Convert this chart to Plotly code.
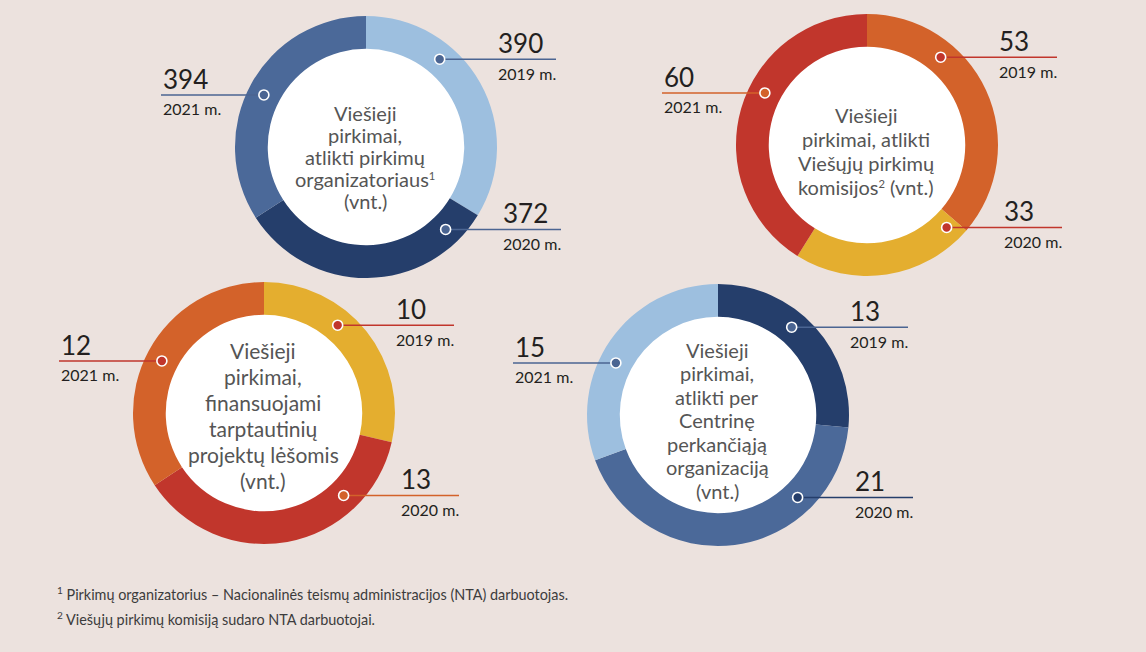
import math
import plotly.graph_objects as go

W, H = 1146, 652

# data
years = ["2019 m.", "2020 m.", "2021 m."]
org_values = [390, 372, 394]
kom_values = [53, 33, 60]
tarpt_values = [10, 13, 12]
cpo_values = [13, 21, 15]

SUP1 = "<span style='font-size:16px'><sup>1</sup></span>"
SUP2 = "<span style='font-size:16px'><sup>2</sup></span>"
org_title = ["Viešieji", "pirkimai,", "atlikti pirkimų", "organizatoriaus" + SUP1, "(vnt.)"]
kom_title = ["Viešieji", "pirkimai, atlikti", "Viešųjų pirkimų", "komisijos" + SUP2 + " (vnt.)"]
tarpt_title = ["Viešieji", "pirkimai,", "finansuojami", "tarptautinių", "projektų lėšomis", "(vnt.)"]
cpo_title = ["Viešieji", "pirkimai,", "atlikti per", "Centrinę", "perkančiąją", "organizaciją", "(vnt.)"]

footnotes = [
    "<sup>1</sup> Pirkimų organizatorius – Nacionalinės teismų administracijos (NTA) darbuotojas.",
    "<sup>2</sup> Viešųjų pirkimų komisiją sudaro NTA darbuotojai.",
]

# colours
BG = "#ece2de"
LIGHT = "#9dbfdf"
NAVY = "#253e6b"
MID = "#4b6999"
ORANGE = "#d3622a"
YELLOW = "#e4ae2f"
RED = "#c1362c"
LINE_BLUE = "#4b6592"
INK = "#231f20"
FONT = "Lato"

R_OUT = 131
HOLE = 0.75
R_MID = R_OUT * (1 + HOLE) / 2
callout_angles = [40, 136, 297]

charts = [
    dict(values=org_values, colors=[LIGHT, NAVY, MID], lines=[LINE_BLUE] * 3,
         title=org_title, c=(366, 147), step=22, off=10, fs=20),
    dict(values=kom_values, colors=[ORANGE, YELLOW, RED], lines=[RED, RED, ORANGE],
         title=kom_title, c=(867, 145), step=24, off=6, fs=20),
    dict(values=tarpt_values, colors=[YELLOW, RED, ORANGE], lines=[RED, ORANGE, RED],
         title=tarpt_title, c=(264, 413), step=26, off=2, fs=21),
    dict(values=cpo_values, colors=[NAVY, MID, LIGHT], lines=[LINE_BLUE, NAVY, LINE_BLUE],
         title=cpo_title, c=(718, 415), step=23.5, off=5, fs=20),
]


def px(x):
    return x / W


def py(y):
    return 1 - y / H


fig = go.Figure()
shapes = []
annotations = []

for ch in charts:
    cx, cy = ch["c"]
    fig.add_trace(go.Pie(
        values=ch["values"], labels=years, hole=HOLE, sort=False,
        direction="clockwise", rotation=0, textinfo="none",
        marker=dict(colors=ch["colors"], line=dict(width=0)),
        domain=dict(x=[px(cx - R_OUT), px(cx + R_OUT)], y=[py(cy + R_OUT), py(cy - R_OUT)]),
        showlegend=False,
    ))
    # white centre
    r_in = R_OUT * HOLE + 2
    shapes.append(dict(type="circle", xref="paper", yref="paper", layer="below",
                       x0=px(cx - r_in), x1=px(cx + r_in), y0=py(cy + r_in), y1=py(cy - r_in),
                       fillcolor="white", line=dict(width=0)))
    # centre title
    n = len(ch["title"])
    top = cy + ch["off"] - ch["step"] * (n - 1) / 2
    for i, line in enumerate(ch["title"]):
        annotations.append(dict(x=px(cx - 1), y=py(top + i * ch["step"]), xref="paper", yref="paper",
                                text=line, showarrow=False, xanchor="center", yanchor="middle",
                                font=dict(family=FONT, size=ch["fs"], color="#555555")))
    # callouts
    for i, (val, yr) in enumerate(zip(ch["values"], years)):
        a = math.radians(callout_angles[i])
        dx = cx + R_MID * math.sin(a)
        dy = cy - R_MID * math.cos(a)
        col = ch["lines"][i]
        if i == 0:
            x_end, tx = cx + 190, cx + 130
            xs = (dx, x_end)
        elif i == 1:
            x_end, tx = cx + 195, cx + 135
            xs = (dx, x_end)
        else:
            tx = cx - 205
            xs = (tx, dx)
        shapes.append(dict(type="line", xref="paper", yref="paper", layer="above",
                           x0=px(xs[0]), x1=px(xs[1]), y0=py(dy), y1=py(dy),
                           line=dict(color=col, width=1.6)))
        rd = 5
        shapes.append(dict(type="circle", xref="paper", yref="paper", layer="above",
                           x0=px(dx - rd), x1=px(dx + rd), y0=py(dy + rd), y1=py(dy - rd),
                           fillcolor=col, line=dict(color="white", width=1.6)))
        annotations.append(dict(x=px(tx), y=py(dy - 16), xref="paper", yref="paper",
                                text=str(val), showarrow=False, xanchor="left", yanchor="middle",
                                font=dict(family=FONT, size=26, color=INK)))
        annotations.append(dict(x=px(tx), y=py(dy + 14), xref="paper", yref="paper",
                                text=yr, showarrow=False, xanchor="left", yanchor="middle",
                                font=dict(family=FONT, size=16, color=INK)))

for i, note in enumerate(footnotes):
    annotations.append(dict(x=px(55), y=py(593 + i * 25), xref="paper", yref="paper",
                            text=note, showarrow=False, xanchor="left", yanchor="middle",
                            font=dict(family=FONT, size=14.4, color="#3c3c3c")))

fig.update_layout(
    width=W, height=H, margin=dict(l=0, r=0, t=0, b=0),
    paper_bgcolor=BG, plot_bgcolor=BG,
    shapes=shapes, annotations=annotations,
)

fig.write_html("out.html", config={"displayModeBar": False},
               post_script="document.body.style.margin='0px';")
